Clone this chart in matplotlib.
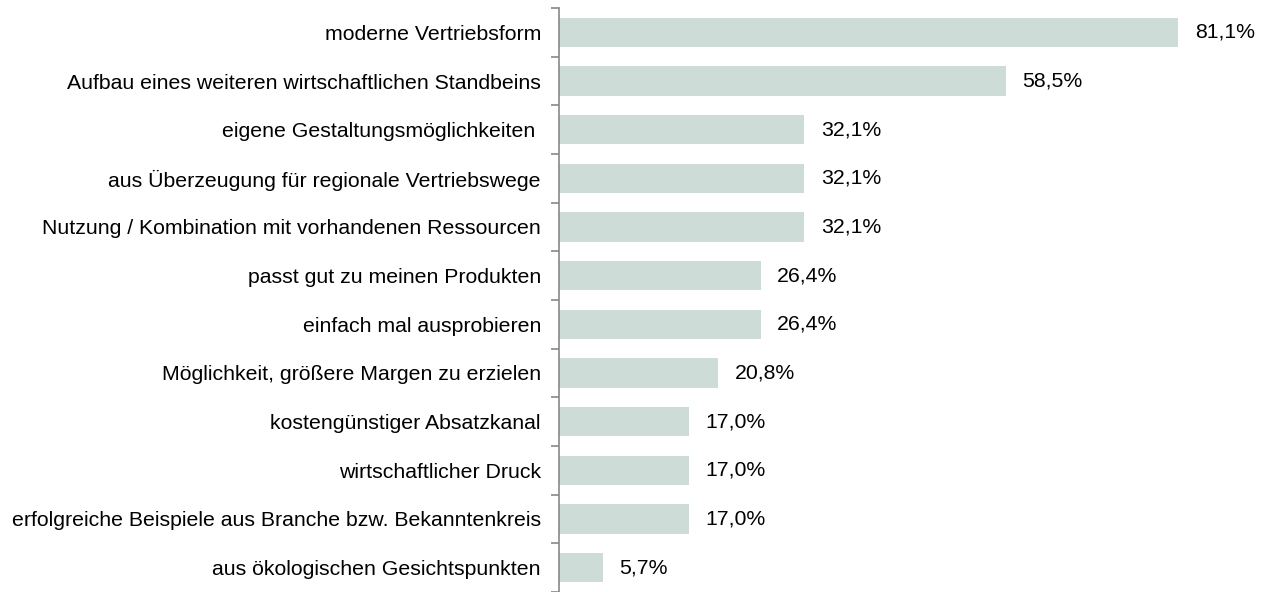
import matplotlib

matplotlib.use("Agg")
import matplotlib.pyplot as plt
import numpy as np

plt.rcParams["font.family"] = ["Liberation Sans", "DejaVu Sans"]

# categories, top to bottom
categories = [
    "moderne Vertriebsform",
    "Aufbau eines weiteren wirtschaftlichen Standbeins",
    "eigene Gestaltungsmöglichkeiten ",
    "aus Überzeugung für regionale Vertriebswege",
    "Nutzung / Kombination mit vorhandenen Ressourcen",
    "passt gut zu meinen Produkten",
    "einfach mal ausprobieren",
    "Möglichkeit, größere Margen zu erzielen",
    "kostengünstiger Absatzkanal",
    "wirtschaftlicher Druck",
    "erfolgreiche Beispiele aus Branche bzw. Bekanntenkreis",
    "aus ökologischen Gesichtspunkten",
]
shares = [81.1, 58.5, 32.1, 32.1, 32.1, 26.4, 26.4, 20.8, 17.0, 17.0, 17.0, 5.7]

W, H = 1262, 592
FS = 15.3
fig = plt.figure(figsize=(W / 100, H / 100), dpi=100)
ax = fig.add_axes([559 / W, 0.0, 687 / W, 584 / H])

y = np.arange(len(categories))
ax.barh(y, shares, height=0.6, color="#cddcd6")
for yi, v in zip(y, shares):
    ax.text(v + 2.2, yi, f"{v:.1f}%".replace(".", ","), va="center", ha="left",
            fontsize=FS)

ax.set_xlim(0, 90)
ax.set_ylim(len(categories) - 0.5, -0.5)
ax.set_xticks([])
ax.set_yticks(y)
ax.set_yticklabels(categories, fontsize=FS)
ax.tick_params(axis="y", which="major", length=0, pad=13)
ax.set_yticks(np.arange(len(categories) + 1) - 0.5, minor=True)
ax.tick_params(axis="y", which="minor", length=6, color="#888888", width=1.2)
for s in ("top", "right", "bottom"):
    ax.spines[s].set_visible(False)
ax.spines["left"].set_color("#888888")
ax.spines["left"].set_linewidth(1.2)

fig.savefig("out.png", dpi=100)
